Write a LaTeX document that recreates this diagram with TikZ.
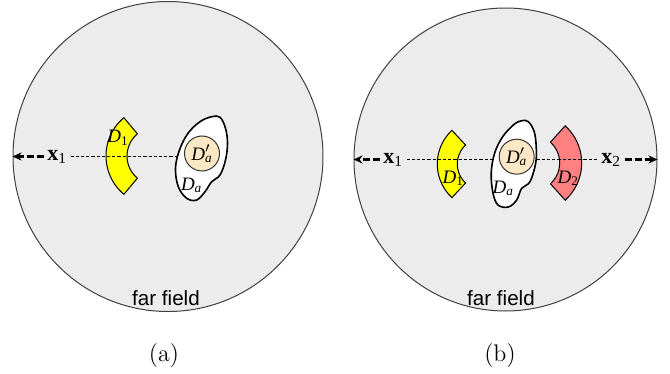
\documentclass[tikz,border=0pt]{standalone}
\usepackage{fontspec}
\usepackage{tikz}
\newfontfamily\tms{Liberation Serif}
\newfontfamily\arl{Liberation Sans}
\usetikzlibrary{arrows.meta,calc}
\definecolor{fieldgray}{RGB}{236,236,236}
\definecolor{sectyellow}{RGB}{255,255,0}
\definecolor{sectred}{RGB}{255,128,128}
\definecolor{corebeige}{RGB}{252,232,196}
\tikzset{
  field/.style={
    circle,
    draw=black!75,
    fill=fieldgray,
    line width=0.5pt,
    inner sep=0pt
  },
  sector/.style={
    draw=black,
    line width=0.5pt
  },
  scatterer/.style={
    draw=black,
    fill=white,
    line width=0.8pt
  },
  core/.style={
    circle,
    draw=black!80,
    fill=corebeige,
    line width=0.5pt,
    minimum size=17.5pt,
    inner sep=0pt,
    font=\fontsize{9.5}{10}\tms
  },
  lbl/.style={font=\fontsize{9.5}{10}\tms, inner sep=0pt},
  obs/.style={font=\fontsize{11}{13}\tms, inner sep=1.5pt},
  farlbl/.style={font=\fontsize{10.3}{12}\arl, inner sep=0pt},
  caption/.style={font=\large, inner sep=0pt},
  far arrow/.style={
    -{Stealth[length=4.5pt,width=4pt]},
    line width=1.1pt,
    dash pattern=on 3.5pt off 1.5pt
  },
  axis line/.style={line width=0.5pt, dash pattern=on 1.6pt off 1pt}
}

\begin{document}
\begin{tikzpicture}[x=0.5pt, y=-0.5pt]
  \useasboundingbox (0,0) rectangle (670,374);

  % far field regions
  \node[field, minimum size=155pt] (fa) at (168,156.5) {};
  \node[field, minimum size=151.5pt] (fb) at (505.5,159.5) {};
  \node[farlbl, anchor=base] (ffa) at (166,305) {far field};
  \node[farlbl, anchor=base] (ffb) at (501,305) {far field};

  % (a)
  \coordinate (s1a) at (156,156);
  \coordinate (ca) at (202,153.5);
  \draw[sector, fill=sectyellow] ($(s1a)+(130:25pt)$) arc[start angle=130, end angle=230, radius=25pt]
    -- ($(s1a)+(230:14.5pt)$) arc[start angle=230, end angle=130, radius=14.5pt] -- cycle;
  \node[obs, anchor=base west] (xa1) at (44,160.7) {\textbf{x}\textsubscript{1}};
  \draw[far arrow] (xa1.west |- fa.center) -- (fa.west);
  \draw[axis line] (xa1.east |- fa.center) -- (ca |- fa.center);
  \begin{scope}[shift={(ca)}]
    \draw[scatterer] plot[smooth cycle, tension=0.6] coordinates {(18,-36.2) (23.5,-25.2) (25.5,-10.2) (23.5,6.5)
      (18,21.5) (9.7,28.2) (3,38.2) (-5.3,46.5) (-15.3,44.8) (-23.7,33.2) (-26.5,14.8) (-22.5,-3.5) (-14,-20.2)
      (-2,-31.8) (9.7,-36.8)};
  \end{scope}
  \node[core] (dpa) at (ca) {\textit{D}\rlap{\textsuperscript{$\prime$}}\textsubscript{\textit{a}}};
  \node[lbl] (d1a) at (118,138) {\textit{D}\textsubscript{1}};
  \node[lbl] (daa) at (191.7,185) {\textit{D}\textsubscript{\textit{a}}};

  % (b)
  \coordinate (s1b) at (483.3,164);
  \coordinate (s2b) at (531.7,163);
  \coordinate (cb) at (516.7,156.7);
  \draw[sector, fill=sectyellow] ($(s1b)+(133:23pt)$) arc[start angle=133, end angle=227, radius=23pt]
    -- ($(s1b)+(227:13pt)$) arc[start angle=227, end angle=133, radius=13pt] -- cycle;
  \draw[sector, fill=sectred] ($(s2b)+(-48:25pt)$) arc[start angle=-48, end angle=48, radius=25pt]
    -- ($(s2b)+(48:14pt)$) arc[start angle=48, end angle=-48, radius=14pt] -- cycle;
  \node[obs, anchor=base west] (xb1) at (380,163.3) {\textbf{x}\textsubscript{1}};
  \node[obs, anchor=base west] (xb2) at (598,163.3) {\textbf{x}\textsubscript{2}};
  \draw[far arrow] (xb1.west |- fb.center) -- (fb.west);
  \draw[far arrow] (xb2.east |- fb.center) -- (fb.east);
  \draw[axis line] (xb1.east |- fb.center) -- (xb2.west |- fb.center);
  \begin{scope}[shift={(cb)}]
    \draw[scatterer] plot[smooth cycle, tension=0.6] coordinates {(11.6,-35) (17.5,-25) (19.5,-10) (19,6.3)
      (13.3,25) (5,31.6) (0,43.3) (-8.4,50.3) (-18.7,48.3) (-23.7,36.3) (-25.5,16.3) (-22,-3.7) (-14,-20)
      (-3,-32) (5,-36)};
  \end{scope}
  \node[core] (dpb) at (cb) {\textit{D}\rlap{\textsuperscript{$\prime$}}\textsubscript{\textit{a}}};
  \node[lbl] (d1b) at (453.3,178.3) {\textit{D}\textsubscript{1}};
  \node[lbl] (d2b) at (568.3,178.3) {\textit{D}\textsubscript{2}};
  \node[lbl] (dab) at (503.3,188.3) {\textit{D}\textsubscript{\textit{a}}};

  % captions
  \node[caption, anchor=base] (capa) at (164,361.5) {(a)};
  \node[caption, anchor=base] (capb) at (500,361.5) {(b)};

\end{tikzpicture}
\end{document}
